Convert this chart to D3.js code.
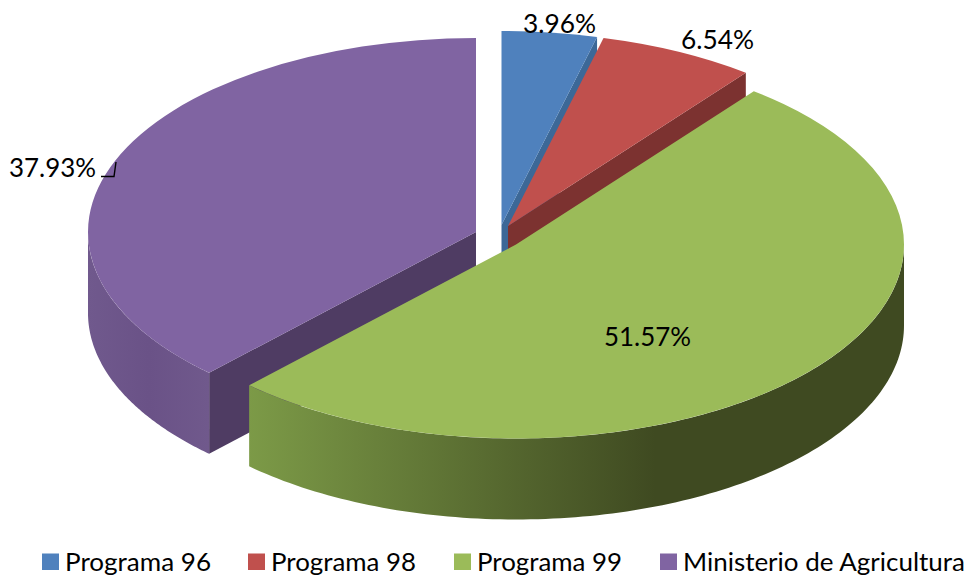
<!DOCTYPE html>
<html><head><meta charset="utf-8">
<script src="https://cdnjs.cloudflare.com/ajax/libs/d3/7.8.5/d3.min.js"></script>
<style>html,body{margin:0;background:#fff}svg{display:block}text{font-family:Lato,"Open Sans",sans-serif;fill:#000}</style>
</head><body><svg id="c" width="968" height="576"></svg>
<script>
const categories = ["Programa 96","Programa 98","Programa 99","Ministerio de Agricultura"];
const percentages = [3.96,6.54,51.57,37.93];
const labels = ["3.96%","6.54%","51.57%","37.93%"];
const topColors = ["#4f81bd","#c0504d","#9bbb59","#8064a2"];
const wallColors = ["#3c6897","#7c3230","#3f4a21","#4f3c63"];

// layout
const R = 388, squash = 0.5, depth = 81;
const apexes = [[501.5,225],[508,226],[516,244.5],[476,232]];
const labelPos = [[523,33],[681,49],[604,346],[9,177]];
const labelWidths = [73,73,87,87];
const legendX = [42,248,454,660];
const legendWidths = [146,145,145,282];
const drawOrder = [3,0,1,2];
const fontLabel = 26.5, fontLegend = 25.5;

const svg = d3.select("#c");
const defs = svg.append("defs");
const gGreen = defs.append("linearGradient").attr("id","rim2").attr("gradientUnits","userSpaceOnUse")
  .attr("x1",249).attr("x2",904).attr("y1",0).attr("y2",0);
[[0,"#7c9a47"],[0.62,"#3f4a21"],[1,"#3f4a21"]].forEach(s=>gGreen.append("stop").attr("offset",s[0]).attr("stop-color",s[1]));
const gPurple = defs.append("linearGradient").attr("id","rim3").attr("gradientUnits","userSpaceOnUse")
  .attr("x1",88).attr("x2",209).attr("y1",0).attr("y2",0);
[[0,"#70598d"],[0.5,"#6a5287"],[1,"#70598c"]].forEach(s=>gPurple.append("stop").attr("offset",s[0]).attr("stop-color",s[1]));

const pie = d3.pie().sort(null).value(d=>d)(percentages);
const arc = d3.arc().innerRadius(0).outerRadius(R);
const line = d3.line();
const px = (i,a,dz=0)=>[apexes[i][0]+R*Math.sin(a), apexes[i][1]-R*squash*Math.cos(a)+dz];

drawOrder.forEach(i=>{
  const p = pie[i];
  const g = svg.append("g");
  const [ax,ay] = apexes[i];
  // radial walls facing the viewer
  [[p.endAngle, Math.sin(p.endAngle)>1e-6],[p.startAngle, Math.sin(p.startAngle)<-1e-6]].forEach(([a,vis])=>{
    if(!vis) return;
    g.append("path").attr("fill",wallColors[i])
      .attr("d",line([[ax,ay],px(i,a),px(i,a,depth),[ax,ay+depth]])+"Z");
  });
  // outer rim, front half only
  const a0 = Math.max(p.startAngle,Math.PI/2), a1 = Math.min(p.endAngle,Math.PI*1.5);
  if(a1>a0){
    const angles = d3.range(0,121).map(k=>a0+(a1-a0)*k/120);
    const pts = angles.map(a=>px(i,a)).concat(angles.slice().reverse().map(a=>px(i,a,depth)));
    g.append("path").attr("fill",`url(#rim${i})`).attr("d",line(pts)+"Z");
  }
  // top
  g.append("path").attr("fill",topColors[i]).attr("d",arc(p))
    .attr("transform",`translate(${ax},${ay}) scale(1,${squash})`);
});

// data labels
svg.append("g").selectAll("text").data(labels).join("text")
  .attr("x",(d,i)=>labelPos[i][0]).attr("y",(d,i)=>labelPos[i][1])
  .attr("font-size",fontLabel)
  .attr("textLength",(d,i)=>labelWidths[i]).attr("lengthAdjust","spacingAndGlyphs").text(d=>d);
// leader mark of the last label
svg.append("path").attr("fill","none").attr("stroke","#000").attr("stroke-width",1.4)
  .attr("d",line([[101,176.5],[114,176.5],[116,162]]));

// legend
const leg = svg.append("g").selectAll("g").data(categories).join("g")
  .attr("transform",(d,i)=>`translate(${legendX[i]},0)`);
leg.append("rect").attr("y",553.5).attr("width",17).attr("height",16.5).attr("fill",(d,i)=>topColors[i]);
leg.append("text").attr("x",23).attr("y",571).attr("font-size",fontLegend)
  .attr("textLength",(d,i)=>legendWidths[i]).attr("lengthAdjust","spacingAndGlyphs").text(d=>d);
</script></body></html>
